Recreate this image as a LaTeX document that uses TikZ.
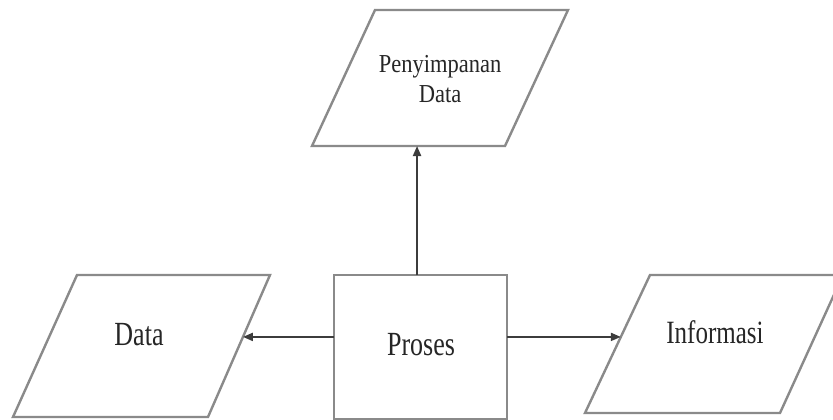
\documentclass[tikz,border=0pt]{standalone}
\usepackage{fontspec}
\setmainfont{Liberation Serif}
\usetikzlibrary{arrows.meta,calc}

\definecolor{edgegray}{HTML}{8A8A8A}
\definecolor{arrowgray}{HTML}{3C3C3C}
\definecolor{inkgray}{HTML}{262626}

\tikzset{
  ioframe/.style={draw=edgegray, line width=2.4pt, line join=miter},
  procbox/.style={draw=edgegray, line width=2.4pt, rectangle, inner sep=0pt, outer sep=0pt,
    minimum width=173pt, minimum height=144pt},
  flow/.style={draw=arrowgray, line width=2pt, -{Triangle[length=10pt,width=8pt]}},
  lbl/.style={text=inkgray, inner sep=0pt, anchor=base}
}

\begin{document}
\begin{tikzpicture}[x=1pt,y=-1pt]
  \useasboundingbox (0,0) rectangle (833,420);
  \clip (0,0) rectangle (833,420);

  % corners of the three input/output parallelograms
  \coordinate (store-tl) at (375,10);  \coordinate (store-tr) at (568,10);
  \coordinate (store-bl) at (312,146); \coordinate (store-br) at (505,146);
  \coordinate (data-tl) at (77,275);   \coordinate (data-tr) at (270,275);
  \coordinate (data-bl) at (13,417);   \coordinate (data-br) at (208,417);
  \coordinate (info-tl) at (650,275);  \coordinate (info-tr) at (843,275);
  \coordinate (info-bl) at (585,413);  \coordinate (info-br) at (780,413);

  \draw[ioframe] (store-bl) -- (store-br) -- (store-tr) -- (store-tl) -- cycle;
  \draw[ioframe] (data-bl) -- (data-br) -- (data-tr) -- (data-tl) -- cycle;
  \draw[ioframe] (info-bl) -- (info-br) -- (info-tr) -- (info-tl) -- cycle;

  % process box
  \node[procbox] (proc) at (420.5,347) {};

  % texts
  \node[lbl, font=\fontsize{22.5}{26}\selectfont] (storetxt) at (440,73)
    {\scalebox{1}[1.15]{\begin{tabular}[t]{@{}c@{}}Penyimpanan\\Data\end{tabular}}};
  \node[lbl, font=\fontsize{26}{30}\selectfont] (datatxt) at (139,345)
    {\scalebox{1}[1.3]{Data}};
  \node[lbl, font=\fontsize{26}{30}\selectfont] (proctxt) at (421,355)
    {\scalebox{1}[1.3]{Proses}};
  \node[lbl, font=\fontsize{25}{30}\selectfont] (infotxt) at (715,343)
    {\scalebox{1}[1.3]{Informasi}};

  % connectors
  \coordinate (procup) at ($(proc.north west)!0.48!(proc.north east)$);
  \draw[flow] (procup) -- (procup |- store-bl);
  \coordinate (procleft) at ($(proc.north west)!0.43!(proc.south west)$);
  \coordinate (dataedge) at ($(data-tr)!0.437!(data-br)$);
  \draw[flow] (procleft) -- (procleft -| dataedge);
  \coordinate (procright) at ($(proc.north east)!0.43!(proc.south east)$);
  \coordinate (infoedge) at ($(info-tl)!0.449!(info-bl)$);
  \draw[flow] (procright) -- (procright -| infoedge);
\end{tikzpicture}
\end{document}
